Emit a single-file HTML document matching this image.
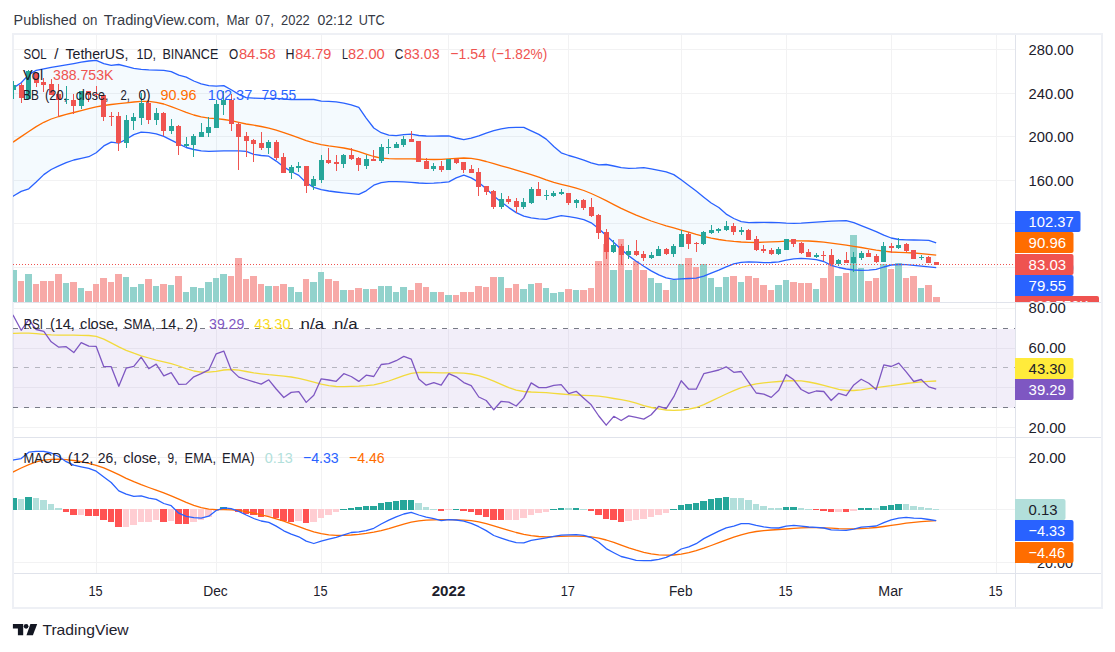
<!DOCTYPE html><html><head><meta charset="utf-8"><title>SOL chart</title><style>html,body{margin:0;padding:0;background:#fff}body{width:1115px;height:652px;position:relative;overflow:hidden;font-family:"Liberation Sans",sans-serif}</style></head><body><svg width="1115" height="652" viewBox="0 0 1115 652" style="position:absolute;left:0;top:0">
<defs>
<clipPath id="cm"><rect x="13" y="35" width="1002" height="267"/></clipPath>
<clipPath id="cr"><rect x="13" y="303" width="1002" height="134"/></clipPath>
<clipPath id="cd"><rect x="13" y="438" width="1002" height="135"/></clipPath>
<clipPath id="ca"><rect x="1015" y="35" width="86" height="267"/></clipPath>
<clipPath id="ca2"><rect x="1015" y="303" width="86" height="134"/></clipPath>
<clipPath id="ca3"><rect x="1015" y="438" width="86" height="135"/></clipPath>
</defs>
<rect x="0" y="0" width="1115" height="652" fill="#fff"/>
<g shape-rendering="crispEdges"><rect x="12" y="33" width="1091" height="2" fill="#eef0f5"/><rect x="12" y="607" width="1091" height="2" fill="#eef0f5"/><rect x="12" y="33" width="2" height="576" fill="#eef0f5"/><rect x="1101" y="33" width="2" height="576" fill="#eef0f5"/></g>
<g shape-rendering="crispEdges"><rect x="96" y="35" width="1" height="538" fill="#f2f2f3"/><rect x="216" y="35" width="1" height="538" fill="#f2f2f3"/><rect x="321" y="35" width="1" height="538" fill="#f2f2f3"/><rect x="448" y="35" width="1" height="538" fill="#f2f2f3"/><rect x="568" y="35" width="1" height="538" fill="#f2f2f3"/><rect x="681" y="35" width="1" height="538" fill="#f2f2f3"/><rect x="786" y="35" width="1" height="538" fill="#f2f2f3"/><rect x="891" y="35" width="1" height="538" fill="#f2f2f3"/><rect x="996" y="35" width="1" height="538" fill="#f2f2f3"/><rect x="14" y="49" width="1001" height="1" fill="#f2f2f3"/><rect x="14" y="93" width="1001" height="1" fill="#f2f2f3"/><rect x="14" y="136" width="1001" height="1" fill="#f2f2f3"/><rect x="14" y="180" width="1001" height="1" fill="#f2f2f3"/><rect x="14" y="223" width="1001" height="1" fill="#f2f2f3"/><rect x="14" y="267" width="1001" height="1" fill="#f2f2f3"/><rect x="14" y="308" width="1001" height="1" fill="#f2f2f3"/><rect x="14" y="348" width="1001" height="1" fill="#f2f2f3"/><rect x="14" y="387" width="1001" height="1" fill="#f2f2f3"/><rect x="14" y="427" width="1001" height="1" fill="#f2f2f3"/><rect x="14" y="457" width="1001" height="1" fill="#f2f2f3"/><rect x="14" y="509" width="1001" height="1" fill="#f2f2f3"/><rect x="14" y="562" width="1001" height="1" fill="#f2f2f3"/></g>
<g clip-path="url(#cm)">
<polygon points="6.2,93.1 13.8,87.6 21.2,82.7 28.8,74.6 36.2,70.4 43.8,68.8 51.2,67.4 58.8,66.1 66.2,64.9 73.8,63.6 81.2,62.2 88.8,61.0 96.2,60.4 103.8,63.7 111.2,65.3 118.8,64.5 126.2,66.4 133.8,68.3 141.2,69.4 148.8,69.9 156.2,70.1 163.8,70.3 171.2,71.7 178.8,75.1 186.2,77.2 193.8,81.0 201.2,83.9 208.8,85.7 216.2,86.2 223.8,85.6 231.2,89.8 238.8,94.4 246.2,97.6 253.8,98.2 261.2,98.3 268.8,98.3 276.2,98.4 283.8,99.0 291.2,99.6 298.8,99.5 306.2,99.4 313.8,99.5 321.2,101.2 328.8,101.4 336.2,101.9 343.8,103.2 351.2,104.8 358.8,107.4 366.2,118.1 373.8,128.0 381.2,132.7 388.8,135.1 396.2,135.7 403.8,134.6 411.2,134.1 418.8,135.5 426.2,136.0 433.8,136.2 441.2,136.0 448.8,135.9 456.2,138.0 463.8,139.6 471.2,138.2 478.8,135.9 486.2,133.1 493.8,130.7 501.2,128.9 508.8,127.7 516.2,127.3 523.8,127.4 531.2,130.9 538.8,134.4 546.2,139.1 553.8,146.5 561.2,152.8 568.8,155.5 576.2,157.6 583.8,160.1 591.2,162.8 598.8,164.9 606.2,164.5 613.8,166.0 621.2,167.6 628.8,168.3 636.2,168.2 643.8,167.7 651.2,168.9 658.8,170.4 666.2,171.9 673.8,174.6 681.2,179.8 688.8,185.4 696.2,191.1 703.8,197.2 711.2,203.0 718.8,207.5 726.2,214.1 733.8,218.5 741.2,221.6 748.8,222.6 756.2,222.5 763.8,222.4 771.2,222.5 778.8,222.7 786.2,223.1 793.8,223.3 801.2,223.1 808.8,222.6 816.2,222.1 823.8,221.6 831.2,221.1 838.8,220.8 846.2,220.6 853.8,222.7 861.2,225.7 868.8,228.7 876.2,231.7 883.8,235.2 891.2,238.0 898.8,239.5 906.2,239.8 913.8,240.0 921.2,240.1 928.8,240.4 936.2,242.9 936.2,267.6 928.8,266.8 921.2,266.1 913.8,265.4 906.2,264.7 898.8,264.5 891.2,265.0 883.8,267.0 876.2,269.4 868.8,270.1 861.2,270.4 853.8,270.0 846.2,269.0 838.8,267.5 831.2,265.3 823.8,261.5 816.2,259.7 808.8,258.8 801.2,258.3 793.8,258.8 786.2,260.1 778.8,261.9 771.2,262.5 763.8,262.7 756.2,262.1 748.8,261.8 741.2,262.3 733.8,263.8 726.2,266.8 718.8,270.1 711.2,273.1 703.8,276.1 696.2,278.2 688.8,278.5 681.2,278.9 673.8,279.4 666.2,277.9 658.8,274.9 651.2,270.9 643.8,266.3 636.2,261.3 628.8,255.9 621.2,249.2 613.8,242.4 606.2,235.6 598.8,228.8 591.2,222.8 583.8,219.6 576.2,217.9 568.8,216.7 561.2,215.7 553.8,217.3 546.2,219.3 538.8,218.8 531.2,217.8 523.8,216.1 516.2,212.6 508.8,207.6 501.2,201.9 493.8,195.9 486.2,188.8 478.8,182.4 471.2,177.9 463.8,175.2 456.2,177.9 448.8,181.8 441.2,182.6 433.8,183.1 426.2,183.3 418.8,183.0 411.2,182.3 403.8,181.9 396.2,181.7 388.8,181.6 381.2,182.7 373.8,185.2 366.2,190.8 358.8,194.4 351.2,193.7 343.8,192.9 336.2,192.0 328.8,191.0 321.2,189.7 313.8,187.4 306.2,182.7 298.8,175.4 291.2,171.5 283.8,166.9 276.2,161.1 268.8,156.2 261.2,155.5 253.8,154.3 246.2,151.4 238.8,150.8 231.2,150.8 223.8,150.8 216.2,151.1 208.8,151.3 201.2,150.9 193.8,149.5 186.2,147.5 178.8,143.8 171.2,140.1 163.8,136.4 156.2,133.9 148.8,132.7 141.2,132.1 133.8,134.6 126.2,139.2 118.8,143.2 111.2,142.2 103.8,145.9 96.2,152.7 88.8,156.7 81.2,158.3 73.8,160.0 66.2,162.7 58.8,165.8 51.2,169.5 43.8,174.6 36.2,182.0 28.8,188.8 21.2,191.4 13.8,195.7 6.2,200.4" fill="#2196f3" fill-opacity="0.05"/>
<g shape-rendering="crispEdges"><rect x="10" y="270" width="7" height="32" fill="#92d2cc"/><rect x="18" y="281" width="6" height="21" fill="#f7a9a7"/><rect x="25" y="274" width="7" height="28" fill="#92d2cc"/><rect x="33" y="284" width="6" height="18" fill="#f7a9a7"/><rect x="40" y="281" width="7" height="21" fill="#f7a9a7"/><rect x="48" y="281" width="6" height="21" fill="#f7a9a7"/><rect x="55" y="274" width="7" height="28" fill="#f7a9a7"/><rect x="63" y="283" width="6" height="19" fill="#92d2cc"/><rect x="70" y="282" width="7" height="20" fill="#f7a9a7"/><rect x="78" y="288" width="6" height="14" fill="#92d2cc"/><rect x="85" y="291" width="7" height="11" fill="#f7a9a7"/><rect x="93" y="284" width="6" height="18" fill="#f7a9a7"/><rect x="100" y="278" width="7" height="24" fill="#f7a9a7"/><rect x="108" y="282" width="6" height="20" fill="#f7a9a7"/><rect x="115" y="274" width="7" height="28" fill="#f7a9a7"/><rect x="123" y="277" width="6" height="25" fill="#92d2cc"/><rect x="130" y="287" width="7" height="15" fill="#92d2cc"/><rect x="138" y="284" width="6" height="18" fill="#92d2cc"/><rect x="145" y="279" width="7" height="23" fill="#f7a9a7"/><rect x="153" y="286" width="6" height="16" fill="#92d2cc"/><rect x="160" y="284" width="7" height="18" fill="#f7a9a7"/><rect x="168" y="285" width="6" height="17" fill="#92d2cc"/><rect x="175" y="276" width="7" height="26" fill="#f7a9a7"/><rect x="183" y="292" width="6" height="10" fill="#92d2cc"/><rect x="190" y="287" width="7" height="15" fill="#92d2cc"/><rect x="198" y="288" width="6" height="14" fill="#92d2cc"/><rect x="205" y="282" width="7" height="20" fill="#92d2cc"/><rect x="213" y="278" width="6" height="24" fill="#92d2cc"/><rect x="220" y="274" width="7" height="28" fill="#92d2cc"/><rect x="228" y="276" width="6" height="26" fill="#f7a9a7"/><rect x="235" y="258" width="7" height="44" fill="#f7a9a7"/><rect x="243" y="279" width="6" height="23" fill="#f7a9a7"/><rect x="250" y="276" width="7" height="26" fill="#f7a9a7"/><rect x="258" y="284" width="6" height="18" fill="#f7a9a7"/><rect x="265" y="286" width="7" height="16" fill="#92d2cc"/><rect x="273" y="286" width="6" height="16" fill="#f7a9a7"/><rect x="280" y="284" width="7" height="18" fill="#f7a9a7"/><rect x="288" y="287" width="6" height="15" fill="#92d2cc"/><rect x="295" y="292" width="7" height="10" fill="#92d2cc"/><rect x="303" y="279" width="6" height="23" fill="#f7a9a7"/><rect x="310" y="282" width="7" height="20" fill="#92d2cc"/><rect x="318" y="272" width="6" height="30" fill="#92d2cc"/><rect x="325" y="279" width="7" height="23" fill="#f7a9a7"/><rect x="333" y="281" width="6" height="21" fill="#f7a9a7"/><rect x="340" y="290" width="7" height="12" fill="#92d2cc"/><rect x="348" y="290" width="6" height="12" fill="#f7a9a7"/><rect x="355" y="288" width="7" height="14" fill="#f7a9a7"/><rect x="363" y="289" width="6" height="13" fill="#92d2cc"/><rect x="370" y="289" width="7" height="13" fill="#f7a9a7"/><rect x="378" y="286" width="6" height="16" fill="#92d2cc"/><rect x="385" y="286" width="7" height="16" fill="#92d2cc"/><rect x="393" y="292" width="6" height="10" fill="#92d2cc"/><rect x="400" y="287" width="7" height="15" fill="#92d2cc"/><rect x="408" y="290" width="6" height="12" fill="#f7a9a7"/><rect x="415" y="283" width="7" height="19" fill="#f7a9a7"/><rect x="423" y="287" width="6" height="15" fill="#f7a9a7"/><rect x="430" y="292" width="7" height="10" fill="#92d2cc"/><rect x="438" y="292" width="6" height="10" fill="#f7a9a7"/><rect x="445" y="295" width="7" height="7" fill="#92d2cc"/><rect x="453" y="295" width="6" height="7" fill="#f7a9a7"/><rect x="460" y="292" width="7" height="10" fill="#f7a9a7"/><rect x="468" y="292" width="6" height="10" fill="#f7a9a7"/><rect x="475" y="286" width="7" height="16" fill="#f7a9a7"/><rect x="483" y="287" width="6" height="15" fill="#f7a9a7"/><rect x="490" y="277" width="7" height="25" fill="#f7a9a7"/><rect x="498" y="277" width="6" height="25" fill="#92d2cc"/><rect x="505" y="288" width="7" height="14" fill="#f7a9a7"/><rect x="513" y="284" width="6" height="18" fill="#f7a9a7"/><rect x="520" y="289" width="7" height="13" fill="#92d2cc"/><rect x="528" y="284" width="6" height="18" fill="#92d2cc"/><rect x="535" y="283" width="7" height="19" fill="#f7a9a7"/><rect x="543" y="288" width="6" height="14" fill="#92d2cc"/><rect x="550" y="293" width="7" height="9" fill="#92d2cc"/><rect x="558" y="292" width="6" height="10" fill="#92d2cc"/><rect x="565" y="289" width="7" height="13" fill="#f7a9a7"/><rect x="573" y="290" width="6" height="12" fill="#92d2cc"/><rect x="580" y="290" width="7" height="12" fill="#f7a9a7"/><rect x="588" y="288" width="6" height="14" fill="#f7a9a7"/><rect x="595" y="261" width="7" height="41" fill="#f7a9a7"/><rect x="603" y="244" width="6" height="58" fill="#f7a9a7"/><rect x="610" y="270" width="7" height="32" fill="#92d2cc"/><rect x="618" y="239" width="6" height="63" fill="#f7a9a7"/><rect x="625" y="270" width="7" height="32" fill="#92d2cc"/><rect x="633" y="261" width="6" height="41" fill="#f7a9a7"/><rect x="640" y="270" width="7" height="32" fill="#f7a9a7"/><rect x="648" y="278" width="6" height="24" fill="#92d2cc"/><rect x="655" y="283" width="7" height="19" fill="#92d2cc"/><rect x="663" y="290" width="6" height="12" fill="#f7a9a7"/><rect x="670" y="280" width="7" height="22" fill="#92d2cc"/><rect x="678" y="264" width="6" height="38" fill="#92d2cc"/><rect x="685" y="258" width="7" height="44" fill="#f7a9a7"/><rect x="693" y="267" width="6" height="35" fill="#f7a9a7"/><rect x="700" y="264" width="7" height="38" fill="#92d2cc"/><rect x="708" y="278" width="6" height="24" fill="#92d2cc"/><rect x="715" y="287" width="7" height="15" fill="#92d2cc"/><rect x="723" y="277" width="6" height="25" fill="#92d2cc"/><rect x="730" y="276" width="7" height="26" fill="#f7a9a7"/><rect x="738" y="282" width="6" height="20" fill="#92d2cc"/><rect x="745" y="276" width="7" height="26" fill="#f7a9a7"/><rect x="753" y="278" width="6" height="24" fill="#f7a9a7"/><rect x="760" y="285" width="7" height="17" fill="#f7a9a7"/><rect x="768" y="290" width="6" height="12" fill="#f7a9a7"/><rect x="775" y="285" width="7" height="17" fill="#92d2cc"/><rect x="783" y="280" width="6" height="22" fill="#92d2cc"/><rect x="790" y="282" width="7" height="20" fill="#f7a9a7"/><rect x="798" y="283" width="6" height="19" fill="#f7a9a7"/><rect x="805" y="283" width="7" height="19" fill="#f7a9a7"/><rect x="813" y="289" width="6" height="13" fill="#92d2cc"/><rect x="820" y="278" width="7" height="24" fill="#f7a9a7"/><rect x="828" y="264" width="6" height="38" fill="#f7a9a7"/><rect x="835" y="276" width="7" height="26" fill="#92d2cc"/><rect x="843" y="273" width="6" height="29" fill="#f7a9a7"/><rect x="850" y="235" width="7" height="67" fill="#92d2cc"/><rect x="858" y="268" width="6" height="34" fill="#92d2cc"/><rect x="865" y="281" width="7" height="21" fill="#f7a9a7"/><rect x="873" y="278" width="6" height="24" fill="#f7a9a7"/><rect x="880" y="264" width="7" height="38" fill="#92d2cc"/><rect x="888" y="269" width="6" height="33" fill="#f7a9a7"/><rect x="895" y="263" width="7" height="39" fill="#92d2cc"/><rect x="903" y="278" width="6" height="24" fill="#f7a9a7"/><rect x="910" y="276" width="7" height="26" fill="#f7a9a7"/><rect x="918" y="288" width="6" height="14" fill="#92d2cc"/><rect x="925" y="285" width="7" height="17" fill="#f7a9a7"/><rect x="933" y="297" width="7" height="5" fill="#f7a9a7"/></g>
<polyline points="6.2,146.4 13.8,141.6 21.2,136.6 28.8,131.5 36.2,126.6 43.8,122.3 51.2,119.0 58.8,116.5 66.2,114.4 73.8,112.5 81.2,110.6 88.8,108.7 96.2,106.9 103.8,105.5 111.2,104.5 118.8,103.7 126.2,102.9 133.8,102.0 141.2,101.3 148.8,101.3 156.2,102.3 163.8,104.0 171.2,106.6 178.8,109.5 186.2,112.4 193.8,115.0 201.2,116.9 208.8,118.1 216.2,118.7 223.8,119.5 231.2,120.7 238.8,122.4 246.2,124.0 253.8,125.2 261.2,126.5 268.8,128.1 276.2,130.2 283.8,132.6 291.2,135.2 298.8,137.9 306.2,140.6 313.8,142.9 321.2,144.7 328.8,145.9 336.2,146.9 343.8,148.0 351.2,149.5 358.8,151.6 366.2,154.1 373.8,156.5 381.2,158.1 388.8,158.7 396.2,158.8 403.8,158.8 411.2,158.8 418.8,159.0 426.2,159.4 433.8,159.5 441.2,159.4 448.8,158.9 456.2,158.3 463.8,158.0 471.2,158.4 478.8,159.6 486.2,161.5 493.8,163.7 501.2,165.8 508.8,167.9 516.2,170.1 523.8,172.4 531.2,174.7 538.8,177.2 546.2,179.9 553.8,182.4 561.2,184.3 568.8,186.1 576.2,188.2 583.8,190.5 591.2,193.5 598.8,197.0 606.2,200.7 613.8,204.6 621.2,208.4 628.8,211.9 636.2,215.2 643.8,218.2 651.2,221.0 658.8,223.5 666.2,225.8 673.8,227.9 681.2,230.1 688.8,232.2 696.2,234.4 703.8,236.4 711.2,238.1 718.8,239.5 726.2,240.6 733.8,241.4 741.2,242.0 748.8,242.4 756.2,242.5 763.8,242.2 771.2,241.9 778.8,241.6 786.2,241.2 793.8,240.8 801.2,240.8 808.8,241.0 816.2,241.5 823.8,242.2 831.2,243.2 838.8,244.2 846.2,245.2 853.8,246.3 861.2,247.5 868.8,248.8 876.2,250.1 883.8,251.2 891.2,252.0 898.8,252.3 906.2,252.6 913.8,253.0 921.2,253.6 928.8,254.3 936.2,255.1" fill="none" stroke="#ff6d00" stroke-width="1.3" stroke-linejoin="round"/>
<polyline points="6.2,93.1 13.8,87.6 21.2,82.7 28.8,74.6 36.2,70.4 43.8,68.8 51.2,67.4 58.8,66.1 66.2,64.9 73.8,63.6 81.2,62.2 88.8,61.0 96.2,60.4 103.8,63.7 111.2,65.3 118.8,64.5 126.2,66.4 133.8,68.3 141.2,69.4 148.8,69.9 156.2,70.1 163.8,70.3 171.2,71.7 178.8,75.1 186.2,77.2 193.8,81.0 201.2,83.9 208.8,85.7 216.2,86.2 223.8,85.6 231.2,89.8 238.8,94.4 246.2,97.6 253.8,98.2 261.2,98.3 268.8,98.3 276.2,98.4 283.8,99.0 291.2,99.6 298.8,99.5 306.2,99.4 313.8,99.5 321.2,101.2 328.8,101.4 336.2,101.9 343.8,103.2 351.2,104.8 358.8,107.4 366.2,118.1 373.8,128.0 381.2,132.7 388.8,135.1 396.2,135.7 403.8,134.6 411.2,134.1 418.8,135.5 426.2,136.0 433.8,136.2 441.2,136.0 448.8,135.9 456.2,138.0 463.8,139.6 471.2,138.2 478.8,135.9 486.2,133.1 493.8,130.7 501.2,128.9 508.8,127.7 516.2,127.3 523.8,127.4 531.2,130.9 538.8,134.4 546.2,139.1 553.8,146.5 561.2,152.8 568.8,155.5 576.2,157.6 583.8,160.1 591.2,162.8 598.8,164.9 606.2,164.5 613.8,166.0 621.2,167.6 628.8,168.3 636.2,168.2 643.8,167.7 651.2,168.9 658.8,170.4 666.2,171.9 673.8,174.6 681.2,179.8 688.8,185.4 696.2,191.1 703.8,197.2 711.2,203.0 718.8,207.5 726.2,214.1 733.8,218.5 741.2,221.6 748.8,222.6 756.2,222.5 763.8,222.4 771.2,222.5 778.8,222.7 786.2,223.1 793.8,223.3 801.2,223.1 808.8,222.6 816.2,222.1 823.8,221.6 831.2,221.1 838.8,220.8 846.2,220.6 853.8,222.7 861.2,225.7 868.8,228.7 876.2,231.7 883.8,235.2 891.2,238.0 898.8,239.5 906.2,239.8 913.8,240.0 921.2,240.1 928.8,240.4 936.2,242.9" fill="none" stroke="#2962ff" stroke-width="1.3" stroke-linejoin="round"/>
<polyline points="6.2,200.4 13.8,195.7 21.2,191.4 28.8,188.8 36.2,182.0 43.8,174.6 51.2,169.5 58.8,165.8 66.2,162.7 73.8,160.0 81.2,158.3 88.8,156.7 96.2,152.7 103.8,145.9 111.2,142.2 118.8,143.2 126.2,139.2 133.8,134.6 141.2,132.1 148.8,132.7 156.2,133.9 163.8,136.4 171.2,140.1 178.8,143.8 186.2,147.5 193.8,149.5 201.2,150.9 208.8,151.3 216.2,151.1 223.8,150.8 231.2,150.8 238.8,150.8 246.2,151.4 253.8,154.3 261.2,155.5 268.8,156.2 276.2,161.1 283.8,166.9 291.2,171.5 298.8,175.4 306.2,182.7 313.8,187.4 321.2,189.7 328.8,191.0 336.2,192.0 343.8,192.9 351.2,193.7 358.8,194.4 366.2,190.8 373.8,185.2 381.2,182.7 388.8,181.6 396.2,181.7 403.8,181.9 411.2,182.3 418.8,183.0 426.2,183.3 433.8,183.1 441.2,182.6 448.8,181.8 456.2,177.9 463.8,175.2 471.2,177.9 478.8,182.4 486.2,188.8 493.8,195.9 501.2,201.9 508.8,207.6 516.2,212.6 523.8,216.1 531.2,217.8 538.8,218.8 546.2,219.3 553.8,217.3 561.2,215.7 568.8,216.7 576.2,217.9 583.8,219.6 591.2,222.8 598.8,228.8 606.2,235.6 613.8,242.4 621.2,249.2 628.8,255.9 636.2,261.3 643.8,266.3 651.2,270.9 658.8,274.9 666.2,277.9 673.8,279.4 681.2,278.9 688.8,278.5 696.2,278.2 703.8,276.1 711.2,273.1 718.8,270.1 726.2,266.8 733.8,263.8 741.2,262.3 748.8,261.8 756.2,262.1 763.8,262.7 771.2,262.5 778.8,261.9 786.2,260.1 793.8,258.8 801.2,258.3 808.8,258.8 816.2,259.7 823.8,261.5 831.2,265.3 838.8,267.5 846.2,269.0 853.8,270.0 861.2,270.4 868.8,270.1 876.2,269.4 883.8,267.0 891.2,265.0 898.8,264.5 906.2,264.7 913.8,265.4 921.2,266.1 928.8,266.8 936.2,267.6" fill="none" stroke="#2962ff" stroke-width="1.3" stroke-linejoin="round"/>
<g shape-rendering="crispEdges"><rect x="13" y="81" width="1" height="18" fill="#26a69a"/><rect x="11" y="85" width="5" height="5" fill="#26a69a"/><rect x="21" y="83" width="1" height="20" fill="#ef5350"/><rect x="19" y="85" width="5" height="13" fill="#ef5350"/><rect x="28" y="70" width="1" height="29" fill="#26a69a"/><rect x="26" y="71" width="5" height="28" fill="#26a69a"/><rect x="36" y="72" width="1" height="15" fill="#ef5350"/><rect x="34" y="73" width="5" height="10" fill="#ef5350"/><rect x="43" y="78" width="1" height="14" fill="#ef5350"/><rect x="41" y="82" width="5" height="3" fill="#ef5350"/><rect x="51" y="79" width="1" height="16" fill="#ef5350"/><rect x="49" y="84" width="5" height="11" fill="#ef5350"/><rect x="58" y="84" width="1" height="33" fill="#ef5350"/><rect x="56" y="94" width="5" height="6" fill="#ef5350"/><rect x="66" y="86" width="1" height="18" fill="#26a69a"/><rect x="64" y="99" width="5" height="1" fill="#26a69a"/><rect x="73" y="94" width="1" height="20" fill="#ef5350"/><rect x="71" y="100" width="5" height="6" fill="#ef5350"/><rect x="81" y="91" width="1" height="18" fill="#26a69a"/><rect x="79" y="91" width="5" height="15" fill="#26a69a"/><rect x="88" y="91" width="1" height="11" fill="#ef5350"/><rect x="86" y="91" width="5" height="4" fill="#ef5350"/><rect x="96" y="86" width="1" height="13" fill="#ef5350"/><rect x="94" y="94" width="5" height="1" fill="#ef5350"/><rect x="103" y="95" width="1" height="26" fill="#ef5350"/><rect x="101" y="95" width="5" height="22" fill="#ef5350"/><rect x="111" y="112" width="1" height="14" fill="#ef5350"/><rect x="109" y="116" width="5" height="1" fill="#ef5350"/><rect x="118" y="112" width="1" height="39" fill="#ef5350"/><rect x="116" y="116" width="5" height="27" fill="#ef5350"/><rect x="126" y="115" width="1" height="33" fill="#26a69a"/><rect x="124" y="120" width="5" height="23" fill="#26a69a"/><rect x="133" y="113" width="1" height="17" fill="#26a69a"/><rect x="131" y="117" width="5" height="4" fill="#26a69a"/><rect x="141" y="93" width="1" height="32" fill="#26a69a"/><rect x="139" y="103" width="5" height="15" fill="#26a69a"/><rect x="148" y="100" width="1" height="24" fill="#ef5350"/><rect x="146" y="103" width="5" height="17" fill="#ef5350"/><rect x="156" y="108" width="1" height="17" fill="#26a69a"/><rect x="154" y="113" width="5" height="7" fill="#26a69a"/><rect x="163" y="112" width="1" height="24" fill="#ef5350"/><rect x="161" y="113" width="5" height="18" fill="#ef5350"/><rect x="171" y="119" width="1" height="15" fill="#26a69a"/><rect x="169" y="126" width="5" height="5" fill="#26a69a"/><rect x="178" y="125" width="1" height="30" fill="#ef5350"/><rect x="176" y="126" width="5" height="20" fill="#ef5350"/><rect x="186" y="137" width="1" height="10" fill="#26a69a"/><rect x="184" y="144" width="5" height="2" fill="#26a69a"/><rect x="193" y="134" width="1" height="23" fill="#26a69a"/><rect x="191" y="136" width="5" height="9" fill="#26a69a"/><rect x="201" y="123" width="1" height="14" fill="#26a69a"/><rect x="199" y="132" width="5" height="5" fill="#26a69a"/><rect x="208" y="117" width="1" height="20" fill="#26a69a"/><rect x="206" y="127" width="5" height="6" fill="#26a69a"/><rect x="216" y="100" width="1" height="28" fill="#26a69a"/><rect x="214" y="104" width="5" height="24" fill="#26a69a"/><rect x="223" y="91" width="1" height="24" fill="#26a69a"/><rect x="221" y="100" width="5" height="5" fill="#26a69a"/><rect x="231" y="94" width="1" height="37" fill="#ef5350"/><rect x="229" y="100" width="5" height="24" fill="#ef5350"/><rect x="238" y="122" width="1" height="48" fill="#ef5350"/><rect x="236" y="124" width="5" height="13" fill="#ef5350"/><rect x="246" y="132" width="1" height="25" fill="#ef5350"/><rect x="244" y="136" width="5" height="5" fill="#ef5350"/><rect x="253" y="139" width="1" height="23" fill="#ef5350"/><rect x="251" y="140" width="5" height="4" fill="#ef5350"/><rect x="261" y="132" width="1" height="18" fill="#ef5350"/><rect x="259" y="143" width="5" height="5" fill="#ef5350"/><rect x="268" y="140" width="1" height="14" fill="#26a69a"/><rect x="266" y="142" width="5" height="6" fill="#26a69a"/><rect x="276" y="140" width="1" height="20" fill="#ef5350"/><rect x="274" y="142" width="5" height="16" fill="#ef5350"/><rect x="283" y="153" width="1" height="20" fill="#ef5350"/><rect x="281" y="157" width="5" height="16" fill="#ef5350"/><rect x="291" y="165" width="1" height="14" fill="#26a69a"/><rect x="289" y="167" width="5" height="6" fill="#26a69a"/><rect x="298" y="162" width="1" height="10" fill="#26a69a"/><rect x="296" y="166" width="5" height="2" fill="#26a69a"/><rect x="306" y="166" width="1" height="27" fill="#ef5350"/><rect x="304" y="166" width="5" height="20" fill="#ef5350"/><rect x="313" y="176" width="1" height="14" fill="#26a69a"/><rect x="311" y="179" width="5" height="7" fill="#26a69a"/><rect x="321" y="155" width="1" height="28" fill="#26a69a"/><rect x="319" y="160" width="5" height="20" fill="#26a69a"/><rect x="328" y="148" width="1" height="16" fill="#ef5350"/><rect x="326" y="160" width="5" height="3" fill="#ef5350"/><rect x="336" y="155" width="1" height="16" fill="#ef5350"/><rect x="334" y="162" width="5" height="2" fill="#ef5350"/><rect x="343" y="154" width="1" height="14" fill="#26a69a"/><rect x="341" y="155" width="5" height="9" fill="#26a69a"/><rect x="351" y="148" width="1" height="12" fill="#ef5350"/><rect x="349" y="155" width="5" height="4" fill="#ef5350"/><rect x="358" y="157" width="1" height="14" fill="#ef5350"/><rect x="356" y="158" width="5" height="7" fill="#ef5350"/><rect x="366" y="155" width="1" height="14" fill="#26a69a"/><rect x="364" y="159" width="5" height="7" fill="#26a69a"/><rect x="373" y="150" width="1" height="11" fill="#ef5350"/><rect x="371" y="159" width="5" height="2" fill="#ef5350"/><rect x="381" y="144" width="1" height="19" fill="#26a69a"/><rect x="379" y="147" width="5" height="14" fill="#26a69a"/><rect x="388" y="139" width="1" height="15" fill="#26a69a"/><rect x="386" y="147" width="5" height="1" fill="#26a69a"/><rect x="396" y="142" width="1" height="6" fill="#26a69a"/><rect x="394" y="144" width="5" height="4" fill="#26a69a"/><rect x="403" y="136" width="1" height="11" fill="#26a69a"/><rect x="401" y="139" width="5" height="6" fill="#26a69a"/><rect x="411" y="131" width="1" height="11" fill="#ef5350"/><rect x="409" y="139" width="5" height="3" fill="#ef5350"/><rect x="418" y="141" width="1" height="21" fill="#ef5350"/><rect x="416" y="141" width="5" height="21" fill="#ef5350"/><rect x="426" y="158" width="1" height="11" fill="#ef5350"/><rect x="424" y="161" width="5" height="8" fill="#ef5350"/><rect x="433" y="163" width="1" height="8" fill="#26a69a"/><rect x="431" y="166" width="5" height="3" fill="#26a69a"/><rect x="441" y="161" width="1" height="11" fill="#ef5350"/><rect x="439" y="166" width="5" height="4" fill="#ef5350"/><rect x="448" y="159" width="1" height="11" fill="#26a69a"/><rect x="446" y="159" width="5" height="11" fill="#26a69a"/><rect x="456" y="159" width="1" height="5" fill="#ef5350"/><rect x="454" y="159" width="5" height="4" fill="#ef5350"/><rect x="463" y="162" width="1" height="11" fill="#ef5350"/><rect x="461" y="162" width="5" height="8" fill="#ef5350"/><rect x="471" y="165" width="1" height="8" fill="#ef5350"/><rect x="469" y="169" width="5" height="4" fill="#ef5350"/><rect x="478" y="168" width="1" height="28" fill="#ef5350"/><rect x="476" y="172" width="5" height="15" fill="#ef5350"/><rect x="486" y="186" width="1" height="9" fill="#ef5350"/><rect x="484" y="186" width="5" height="6" fill="#ef5350"/><rect x="493" y="190" width="1" height="19" fill="#ef5350"/><rect x="491" y="191" width="5" height="16" fill="#ef5350"/><rect x="501" y="193" width="1" height="16" fill="#26a69a"/><rect x="499" y="199" width="5" height="8" fill="#26a69a"/><rect x="508" y="196" width="1" height="8" fill="#ef5350"/><rect x="506" y="199" width="5" height="3" fill="#ef5350"/><rect x="516" y="198" width="1" height="15" fill="#ef5350"/><rect x="514" y="201" width="5" height="6" fill="#ef5350"/><rect x="523" y="198" width="1" height="11" fill="#26a69a"/><rect x="521" y="202" width="5" height="5" fill="#26a69a"/><rect x="531" y="187" width="1" height="17" fill="#26a69a"/><rect x="529" y="189" width="5" height="14" fill="#26a69a"/><rect x="538" y="182" width="1" height="14" fill="#ef5350"/><rect x="536" y="189" width="5" height="7" fill="#ef5350"/><rect x="546" y="190" width="1" height="10" fill="#26a69a"/><rect x="544" y="195" width="5" height="1" fill="#26a69a"/><rect x="553" y="191" width="1" height="6" fill="#26a69a"/><rect x="551" y="193" width="5" height="3" fill="#26a69a"/><rect x="561" y="189" width="1" height="6" fill="#26a69a"/><rect x="559" y="192" width="5" height="2" fill="#26a69a"/><rect x="568" y="193" width="1" height="12" fill="#ef5350"/><rect x="566" y="193" width="5" height="10" fill="#ef5350"/><rect x="576" y="199" width="1" height="9" fill="#26a69a"/><rect x="574" y="200" width="5" height="3" fill="#26a69a"/><rect x="583" y="199" width="1" height="11" fill="#ef5350"/><rect x="581" y="200" width="5" height="8" fill="#ef5350"/><rect x="591" y="198" width="1" height="19" fill="#ef5350"/><rect x="589" y="207" width="5" height="9" fill="#ef5350"/><rect x="598" y="214" width="1" height="25" fill="#ef5350"/><rect x="596" y="215" width="5" height="18" fill="#ef5350"/><rect x="606" y="229" width="1" height="30" fill="#ef5350"/><rect x="604" y="232" width="5" height="20" fill="#ef5350"/><rect x="613" y="240" width="1" height="13" fill="#26a69a"/><rect x="611" y="245" width="5" height="7" fill="#26a69a"/><rect x="621" y="244" width="1" height="21" fill="#ef5350"/><rect x="619" y="246" width="5" height="9" fill="#ef5350"/><rect x="628" y="245" width="1" height="14" fill="#26a69a"/><rect x="626" y="251" width="5" height="4" fill="#26a69a"/><rect x="636" y="240" width="1" height="16" fill="#ef5350"/><rect x="634" y="251" width="5" height="4" fill="#ef5350"/><rect x="643" y="251" width="1" height="10" fill="#ef5350"/><rect x="641" y="254" width="5" height="4" fill="#ef5350"/><rect x="651" y="252" width="1" height="7" fill="#26a69a"/><rect x="649" y="255" width="5" height="3" fill="#26a69a"/><rect x="658" y="246" width="1" height="10" fill="#26a69a"/><rect x="656" y="249" width="5" height="7" fill="#26a69a"/><rect x="666" y="248" width="1" height="7" fill="#ef5350"/><rect x="664" y="249" width="5" height="5" fill="#ef5350"/><rect x="673" y="244" width="1" height="13" fill="#26a69a"/><rect x="671" y="246" width="5" height="8" fill="#26a69a"/><rect x="681" y="230" width="1" height="17" fill="#26a69a"/><rect x="679" y="234" width="5" height="13" fill="#26a69a"/><rect x="688" y="232" width="1" height="17" fill="#ef5350"/><rect x="686" y="234" width="5" height="10" fill="#ef5350"/><rect x="696" y="242" width="1" height="10" fill="#ef5350"/><rect x="694" y="243" width="5" height="1" fill="#ef5350"/><rect x="703" y="231" width="1" height="14" fill="#26a69a"/><rect x="701" y="232" width="5" height="12" fill="#26a69a"/><rect x="711" y="225" width="1" height="9" fill="#26a69a"/><rect x="709" y="230" width="5" height="3" fill="#26a69a"/><rect x="718" y="228" width="1" height="5" fill="#26a69a"/><rect x="716" y="229" width="5" height="2" fill="#26a69a"/><rect x="726" y="221" width="1" height="10" fill="#26a69a"/><rect x="724" y="226" width="5" height="4" fill="#26a69a"/><rect x="733" y="223" width="1" height="12" fill="#ef5350"/><rect x="731" y="226" width="5" height="6" fill="#ef5350"/><rect x="741" y="227" width="1" height="8" fill="#26a69a"/><rect x="739" y="230" width="5" height="2" fill="#26a69a"/><rect x="748" y="229" width="1" height="11" fill="#ef5350"/><rect x="746" y="230" width="5" height="10" fill="#ef5350"/><rect x="756" y="236" width="1" height="15" fill="#ef5350"/><rect x="754" y="239" width="5" height="11" fill="#ef5350"/><rect x="763" y="245" width="1" height="8" fill="#ef5350"/><rect x="761" y="249" width="5" height="2" fill="#ef5350"/><rect x="771" y="248" width="1" height="7" fill="#ef5350"/><rect x="769" y="250" width="5" height="4" fill="#ef5350"/><rect x="778" y="247" width="1" height="8" fill="#26a69a"/><rect x="776" y="249" width="5" height="5" fill="#26a69a"/><rect x="786" y="239" width="1" height="11" fill="#26a69a"/><rect x="784" y="239" width="5" height="11" fill="#26a69a"/><rect x="793" y="239" width="1" height="8" fill="#ef5350"/><rect x="791" y="239" width="5" height="5" fill="#ef5350"/><rect x="801" y="242" width="1" height="12" fill="#ef5350"/><rect x="799" y="243" width="5" height="10" fill="#ef5350"/><rect x="808" y="249" width="1" height="8" fill="#ef5350"/><rect x="806" y="252" width="5" height="5" fill="#ef5350"/><rect x="816" y="253" width="1" height="5" fill="#26a69a"/><rect x="814" y="255" width="5" height="2" fill="#26a69a"/><rect x="823" y="251" width="1" height="10" fill="#ef5350"/><rect x="821" y="255" width="5" height="1" fill="#ef5350"/><rect x="831" y="249" width="1" height="17" fill="#ef5350"/><rect x="829" y="255" width="5" height="9" fill="#ef5350"/><rect x="838" y="259" width="1" height="7" fill="#26a69a"/><rect x="836" y="260" width="5" height="4" fill="#26a69a"/><rect x="846" y="252" width="1" height="11" fill="#ef5350"/><rect x="844" y="260" width="5" height="3" fill="#ef5350"/><rect x="853" y="252" width="1" height="20" fill="#26a69a"/><rect x="851" y="257" width="5" height="6" fill="#26a69a"/><rect x="861" y="251" width="1" height="9" fill="#26a69a"/><rect x="859" y="253" width="5" height="5" fill="#26a69a"/><rect x="868" y="250" width="1" height="7" fill="#ef5350"/><rect x="866" y="253" width="5" height="4" fill="#ef5350"/><rect x="876" y="254" width="1" height="9" fill="#ef5350"/><rect x="874" y="256" width="5" height="6" fill="#ef5350"/><rect x="883" y="242" width="1" height="20" fill="#26a69a"/><rect x="881" y="246" width="5" height="16" fill="#26a69a"/><rect x="891" y="243" width="1" height="10" fill="#ef5350"/><rect x="889" y="246" width="5" height="2" fill="#ef5350"/><rect x="898" y="238" width="1" height="11" fill="#26a69a"/><rect x="896" y="245" width="5" height="3" fill="#26a69a"/><rect x="906" y="243" width="1" height="9" fill="#ef5350"/><rect x="904" y="244" width="5" height="7" fill="#ef5350"/><rect x="913" y="250" width="1" height="9" fill="#ef5350"/><rect x="911" y="250" width="5" height="9" fill="#ef5350"/><rect x="921" y="255" width="1" height="5" fill="#26a69a"/><rect x="919" y="257" width="5" height="1" fill="#26a69a"/><rect x="928" y="256" width="1" height="7" fill="#ef5350"/><rect x="926" y="257" width="5" height="6" fill="#ef5350"/><rect x="936" y="262" width="1" height="3" fill="#ef5350"/><rect x="934" y="262" width="5" height="3" fill="#ef5350"/></g>
<line x1="13" y1="264.5" x2="1015" y2="264.5" stroke="#ef5350" stroke-width="1" stroke-dasharray="1 2" shape-rendering="crispEdges"/>
</g>
<g clip-path="url(#cr)">
<rect x="13" y="329" width="1002" height="79" fill="#7e57c2" fill-opacity="0.1"/>
<line x1="13" y1="328.5" x2="1015" y2="328.5" stroke="#787b86" stroke-width="1" stroke-dasharray="5 6" shape-rendering="crispEdges"/>
<line x1="13" y1="367.5" x2="1015" y2="367.5" stroke="#787b86" stroke-opacity="0.5" stroke-width="1" stroke-dasharray="5 6" shape-rendering="crispEdges"/>
<line x1="13" y1="407.5" x2="1015" y2="407.5" stroke="#787b86" stroke-width="1" stroke-dasharray="5 6" shape-rendering="crispEdges"/>
<polyline points="6.2,333.4 13.8,333.3 21.2,333.1 28.8,333.1 36.2,333.6 43.8,334.4 51.2,334.9 58.8,335.1 66.2,335.1 73.8,335.2 81.2,335.3 88.8,335.5 96.2,336.4 103.8,339.1 111.2,342.9 118.8,346.9 126.2,350.3 133.8,353.2 141.2,355.8 148.8,358.0 156.2,360.1 163.8,361.8 171.2,363.6 178.8,366.0 186.2,368.6 193.8,371.0 201.2,372.2 208.8,372.2 216.2,371.3 223.8,370.0 231.2,369.5 238.8,370.2 246.2,371.5 253.8,372.8 261.2,373.8 268.8,374.7 276.2,375.4 283.8,376.1 291.2,377.0 298.8,378.4 306.2,380.2 313.8,382.2 321.2,384.1 328.8,385.7 336.2,386.5 343.8,386.6 351.2,386.3 358.8,386.1 366.2,385.7 373.8,384.8 381.2,383.2 388.8,381.0 396.2,378.4 403.8,375.6 411.2,373.4 418.8,372.4 426.2,372.5 433.8,372.7 441.2,372.9 448.8,372.9 456.2,372.9 463.8,373.2 471.2,374.0 478.8,375.7 486.2,378.2 493.8,381.1 501.2,384.4 508.8,387.7 516.2,390.2 523.8,391.5 531.2,392.0 538.8,392.3 546.2,392.7 553.8,393.3 561.2,394.0 568.8,394.6 576.2,395.0 583.8,395.3 591.2,395.7 598.8,396.2 606.2,397.2 613.8,398.5 621.2,399.6 628.8,401.1 636.2,403.2 643.8,405.6 651.2,407.5 658.8,408.9 666.2,410.0 673.8,410.4 681.2,410.0 688.8,409.2 696.2,407.5 703.8,404.7 711.2,401.1 718.8,397.5 726.2,394.0 733.8,390.6 741.2,387.7 748.8,385.5 756.2,383.9 763.8,382.9 771.2,382.2 778.8,381.5 786.2,380.9 793.8,380.6 801.2,380.9 808.8,382.0 816.2,383.5 823.8,385.4 831.2,387.4 838.8,389.3 846.2,390.5 853.8,390.5 861.2,389.8 868.8,388.7 876.2,387.6 883.8,386.6 891.2,385.7 898.8,384.6 906.2,383.5 913.8,382.6 921.2,381.8 928.8,381.3 936.2,381.0" fill="none" stroke="#f2da3c" stroke-width="1.3" stroke-linejoin="round"/>
<polyline points="6.2,306.0 13.8,316.5 21.2,330.3 28.8,319.6 36.2,329.5 43.8,331.4 51.2,341.8 58.8,347.2 66.2,346.7 73.8,352.6 81.2,342.6 88.8,346.1 96.2,346.4 103.8,366.7 111.2,366.7 118.8,386.3 126.2,368.2 133.8,366.4 141.2,357.2 148.8,368.7 156.2,364.1 163.8,375.9 171.2,372.7 178.8,384.4 186.2,384.1 193.8,376.8 201.2,373.7 208.8,369.9 216.2,353.8 223.8,351.1 231.2,369.9 238.8,377.1 246.2,379.5 253.8,381.8 261.2,384.1 268.8,379.8 276.2,389.0 283.8,397.5 291.2,392.4 298.8,391.6 306.2,402.4 313.8,395.2 321.2,378.8 328.8,380.0 336.2,381.3 343.8,373.7 351.2,376.5 358.8,381.4 366.2,375.2 373.8,376.5 381.2,364.5 388.8,363.7 396.2,360.7 403.8,356.4 411.2,359.1 418.8,379.1 426.2,385.2 433.8,382.6 441.2,385.2 448.8,373.7 456.2,376.8 463.8,382.6 471.2,385.7 478.8,397.0 486.2,400.5 493.8,409.8 501.2,401.3 508.8,402.2 516.2,406.0 523.8,397.9 531.2,382.9 538.8,387.6 546.2,387.6 553.8,385.3 561.2,384.6 568.8,393.6 576.2,391.3 583.8,398.2 591.2,404.8 598.8,416.0 606.2,425.2 613.8,416.3 621.2,420.5 628.8,415.9 636.2,417.4 643.8,419.1 651.2,414.8 658.8,406.3 666.2,408.6 673.8,396.7 681.2,380.7 688.8,389.2 696.2,389.2 703.8,373.7 711.2,371.8 718.8,370.0 726.2,366.8 733.8,372.3 741.2,371.5 748.8,382.3 756.2,393.0 763.8,394.1 771.2,397.4 778.8,390.2 786.2,374.6 793.8,379.8 801.2,389.5 808.8,393.3 816.2,391.0 823.8,391.5 831.2,400.5 838.8,393.3 846.2,395.6 853.8,384.9 861.2,379.2 868.8,383.3 876.2,389.5 883.8,364.9 891.2,366.5 898.8,363.1 906.2,371.8 913.8,381.5 921.2,379.5 928.8,386.9 936.2,389.2" fill="none" stroke="#7e57c2" stroke-width="1.3" stroke-linejoin="round"/>
</g>
<g clip-path="url(#cd)">
<g shape-rendering="crispEdges"><rect x="10" y="498" width="7" height="12" fill="#26a69a"/><rect x="18" y="499" width="6" height="11" fill="#b2dfdb"/><rect x="25" y="497" width="7" height="13" fill="#26a69a"/><rect x="33" y="498" width="6" height="12" fill="#b2dfdb"/><rect x="40" y="500" width="7" height="10" fill="#b2dfdb"/><rect x="48" y="504" width="6" height="6" fill="#b2dfdb"/><rect x="55" y="508" width="7" height="2" fill="#b2dfdb"/><rect x="63" y="509" width="6" height="3" fill="#ff5252"/><rect x="70" y="509" width="7" height="6" fill="#ff5252"/><rect x="78" y="509" width="6" height="6" fill="#ffcdd2"/><rect x="85" y="509" width="7" height="7" fill="#ff5252"/><rect x="93" y="509" width="6" height="7" fill="#ff5252"/><rect x="100" y="509" width="7" height="11" fill="#ff5252"/><rect x="108" y="509" width="6" height="13" fill="#ff5252"/><rect x="115" y="509" width="7" height="18" fill="#ff5252"/><rect x="123" y="509" width="6" height="18" fill="#ffcdd2"/><rect x="130" y="509" width="7" height="16" fill="#ffcdd2"/><rect x="138" y="509" width="6" height="13" fill="#ffcdd2"/><rect x="145" y="509" width="7" height="13" fill="#ffcdd2"/><rect x="153" y="509" width="6" height="11" fill="#ffcdd2"/><rect x="160" y="509" width="7" height="13" fill="#ff5252"/><rect x="168" y="509" width="6" height="12" fill="#ffcdd2"/><rect x="175" y="509" width="7" height="15" fill="#ff5252"/><rect x="183" y="509" width="6" height="15" fill="#ff5252"/><rect x="190" y="509" width="7" height="13" fill="#ffcdd2"/><rect x="198" y="509" width="6" height="11" fill="#ffcdd2"/><rect x="205" y="509" width="7" height="8" fill="#ffcdd2"/><rect x="213" y="509" width="6" height="2" fill="#ffcdd2"/><rect x="220" y="507" width="7" height="3" fill="#26a69a"/><rect x="228" y="509" width="6" height="1" fill="#b2dfdb"/><rect x="235" y="509" width="7" height="3" fill="#ff5252"/><rect x="243" y="509" width="6" height="5" fill="#ff5252"/><rect x="250" y="509" width="7" height="6" fill="#ff5252"/><rect x="258" y="509" width="6" height="8" fill="#ff5252"/><rect x="265" y="509" width="7" height="7" fill="#ffcdd2"/><rect x="273" y="509" width="6" height="9" fill="#ff5252"/><rect x="280" y="509" width="7" height="12" fill="#ff5252"/><rect x="288" y="509" width="6" height="13" fill="#ff5252"/><rect x="295" y="509" width="7" height="12" fill="#ffcdd2"/><rect x="303" y="509" width="6" height="14" fill="#ff5252"/><rect x="310" y="509" width="7" height="13" fill="#ffcdd2"/><rect x="318" y="509" width="6" height="9" fill="#ffcdd2"/><rect x="325" y="509" width="7" height="6" fill="#ffcdd2"/><rect x="333" y="509" width="6" height="3" fill="#ffcdd2"/><rect x="340" y="509" width="7" height="1" fill="#26a69a"/><rect x="348" y="508" width="6" height="2" fill="#26a69a"/><rect x="355" y="507" width="7" height="3" fill="#26a69a"/><rect x="363" y="506" width="6" height="4" fill="#26a69a"/><rect x="370" y="506" width="7" height="4" fill="#26a69a"/><rect x="378" y="503" width="6" height="7" fill="#26a69a"/><rect x="385" y="502" width="7" height="8" fill="#26a69a"/><rect x="393" y="501" width="6" height="9" fill="#26a69a"/><rect x="400" y="500" width="7" height="10" fill="#26a69a"/><rect x="408" y="500" width="6" height="10" fill="#26a69a"/><rect x="415" y="503" width="7" height="7" fill="#b2dfdb"/><rect x="423" y="507" width="6" height="3" fill="#b2dfdb"/><rect x="430" y="509" width="7" height="1" fill="#b2dfdb"/><rect x="438" y="509" width="6" height="2" fill="#ff5252"/><rect x="445" y="509" width="7" height="1" fill="#ffcdd2"/><rect x="453" y="509" width="6" height="1" fill="#26a69a"/><rect x="460" y="509" width="7" height="2" fill="#ff5252"/><rect x="468" y="509" width="6" height="3" fill="#ff5252"/><rect x="475" y="509" width="7" height="6" fill="#ff5252"/><rect x="483" y="509" width="6" height="8" fill="#ff5252"/><rect x="490" y="509" width="7" height="11" fill="#ff5252"/><rect x="498" y="509" width="6" height="11" fill="#ff5252"/><rect x="505" y="509" width="7" height="11" fill="#ffcdd2"/><rect x="513" y="509" width="6" height="11" fill="#ffcdd2"/><rect x="520" y="509" width="7" height="9" fill="#ffcdd2"/><rect x="528" y="509" width="6" height="6" fill="#ffcdd2"/><rect x="535" y="509" width="7" height="4" fill="#ffcdd2"/><rect x="543" y="509" width="6" height="3" fill="#ffcdd2"/><rect x="550" y="509" width="7" height="1" fill="#26a69a"/><rect x="558" y="508" width="6" height="2" fill="#26a69a"/><rect x="565" y="508" width="7" height="2" fill="#b2dfdb"/><rect x="573" y="508" width="6" height="2" fill="#26a69a"/><rect x="580" y="509" width="7" height="1" fill="#b2dfdb"/><rect x="588" y="509" width="6" height="2" fill="#ff5252"/><rect x="595" y="509" width="7" height="6" fill="#ff5252"/><rect x="603" y="509" width="6" height="10" fill="#ff5252"/><rect x="610" y="509" width="7" height="11" fill="#ff5252"/><rect x="618" y="509" width="6" height="13" fill="#ff5252"/><rect x="625" y="509" width="7" height="12" fill="#ffcdd2"/><rect x="633" y="509" width="6" height="11" fill="#ffcdd2"/><rect x="640" y="509" width="7" height="10" fill="#ffcdd2"/><rect x="648" y="509" width="6" height="8" fill="#ffcdd2"/><rect x="655" y="509" width="7" height="6" fill="#ffcdd2"/><rect x="663" y="509" width="6" height="4" fill="#ffcdd2"/><rect x="670" y="509" width="7" height="1" fill="#26a69a"/><rect x="678" y="505" width="6" height="5" fill="#26a69a"/><rect x="685" y="504" width="7" height="6" fill="#26a69a"/><rect x="693" y="503" width="6" height="7" fill="#26a69a"/><rect x="700" y="501" width="7" height="9" fill="#26a69a"/><rect x="708" y="499" width="6" height="11" fill="#26a69a"/><rect x="715" y="498" width="7" height="12" fill="#26a69a"/><rect x="723" y="497" width="6" height="13" fill="#26a69a"/><rect x="730" y="498" width="7" height="12" fill="#b2dfdb"/><rect x="738" y="498" width="6" height="12" fill="#b2dfdb"/><rect x="745" y="500" width="7" height="10" fill="#b2dfdb"/><rect x="753" y="504" width="6" height="6" fill="#b2dfdb"/><rect x="760" y="506" width="7" height="4" fill="#b2dfdb"/><rect x="768" y="508" width="6" height="2" fill="#b2dfdb"/><rect x="775" y="508" width="7" height="2" fill="#b2dfdb"/><rect x="783" y="507" width="6" height="3" fill="#26a69a"/><rect x="790" y="507" width="7" height="3" fill="#26a69a"/><rect x="798" y="508" width="6" height="2" fill="#b2dfdb"/><rect x="805" y="509" width="7" height="1" fill="#b2dfdb"/><rect x="813" y="509" width="6" height="1" fill="#ff5252"/><rect x="820" y="509" width="7" height="2" fill="#ff5252"/><rect x="828" y="509" width="6" height="3" fill="#ff5252"/><rect x="835" y="509" width="7" height="3" fill="#ffcdd2"/><rect x="843" y="509" width="6" height="3" fill="#ff5252"/><rect x="850" y="509" width="7" height="2" fill="#ffcdd2"/><rect x="858" y="508" width="6" height="2" fill="#26a69a"/><rect x="865" y="508" width="7" height="2" fill="#26a69a"/><rect x="873" y="508" width="6" height="2" fill="#b2dfdb"/><rect x="880" y="506" width="7" height="4" fill="#26a69a"/><rect x="888" y="505" width="6" height="5" fill="#26a69a"/><rect x="895" y="504" width="7" height="6" fill="#26a69a"/><rect x="903" y="504" width="6" height="6" fill="#b2dfdb"/><rect x="910" y="506" width="7" height="4" fill="#b2dfdb"/><rect x="918" y="507" width="6" height="3" fill="#b2dfdb"/><rect x="925" y="508" width="7" height="2" fill="#b2dfdb"/><rect x="933" y="509" width="6" height="1" fill="#b2dfdb"/></g>
<polyline points="6.2,475.3 13.8,471.6 21.2,468.0 28.8,464.6 36.2,461.9 43.8,460.1 51.2,459.3 58.8,459.2 66.2,459.7 73.8,460.5 81.2,461.7 88.8,463.3 96.2,465.3 103.8,467.9 111.2,471.1 118.8,474.7 126.2,478.3 133.8,481.7 141.2,484.7 148.8,487.5 156.2,490.2 163.8,492.9 171.2,495.8 178.8,499.1 186.2,502.4 193.8,505.4 201.2,507.7 208.8,509.1 216.2,509.7 223.8,509.7 231.2,509.8 238.8,510.4 246.2,511.6 253.8,513.1 261.2,514.9 268.8,516.7 276.2,518.8 283.8,521.2 291.2,523.8 298.8,526.6 306.2,529.3 313.8,531.8 321.2,533.7 328.8,534.9 336.2,535.4 343.8,535.4 351.2,535.0 358.8,534.4 366.2,533.4 373.8,532.2 381.2,530.6 388.8,528.6 396.2,526.3 403.8,524.1 411.2,522.2 418.8,520.9 426.2,520.1 433.8,519.8 441.2,519.7 448.8,519.7 456.2,519.8 463.8,520.1 471.2,520.7 478.8,521.9 486.2,523.6 493.8,525.8 501.2,528.1 508.8,530.3 516.2,532.5 523.8,534.3 531.2,535.7 538.8,536.5 546.2,536.8 553.8,536.6 561.2,536.4 568.8,536.2 576.2,536.1 583.8,536.3 591.2,536.9 598.8,538.1 606.2,540.0 613.8,542.4 621.2,545.1 628.8,547.8 636.2,550.2 643.8,552.3 651.2,553.8 658.8,554.8 666.2,555.2 673.8,555.0 681.2,554.1 688.8,552.6 696.2,550.6 703.8,548.2 711.2,545.5 718.8,542.7 726.2,539.9 733.8,537.2 741.2,534.8 748.8,532.9 756.2,531.5 763.8,530.6 771.2,530.0 778.8,529.5 786.2,529.0 793.8,528.4 801.2,527.9 808.8,527.6 816.2,527.6 823.8,527.8 831.2,528.2 838.8,528.6 846.2,528.8 853.8,528.8 861.2,528.5 868.8,528.1 876.2,527.5 883.8,526.5 891.2,525.4 898.8,524.3 906.2,523.2 913.8,522.4 921.2,521.7 928.8,521.1 936.2,520.7" fill="none" stroke="#ff6d00" stroke-width="1.3" stroke-linejoin="round"/>
<polyline points="6.2,461.4 13.8,459.9 21.2,458.6 28.8,452.2 36.2,451.4 43.8,451.4 51.2,453.0 58.8,456.5 66.2,461.7 73.8,465.1 81.2,466.8 88.8,468.4 96.2,471.2 103.8,476.9 111.2,482.5 118.8,490.9 126.2,494.1 133.8,496.4 141.2,495.8 148.8,498.2 156.2,499.4 163.8,503.5 171.2,505.7 178.8,513.2 186.2,516.4 193.8,517.7 201.2,518.1 208.8,516.2 216.2,510.5 223.8,507.8 231.2,508.7 238.8,511.3 246.2,515.0 253.8,518.5 261.2,521.0 268.8,522.4 276.2,526.1 283.8,530.8 291.2,534.2 298.8,536.8 306.2,541.1 313.8,543.5 321.2,541.1 328.8,539.2 336.2,537.3 343.8,534.9 351.2,532.5 358.8,531.8 366.2,530.6 373.8,528.3 381.2,524.0 388.8,520.1 396.2,516.8 403.8,514.0 411.2,512.3 418.8,515.0 426.2,517.2 433.8,518.7 441.2,520.7 448.8,519.7 456.2,520.0 463.8,521.1 471.2,523.3 478.8,526.7 486.2,530.6 493.8,535.5 501.2,538.1 508.8,540.6 516.2,542.6 523.8,542.9 531.2,540.3 538.8,539.1 546.2,537.8 553.8,536.3 561.2,535.1 568.8,534.8 576.2,534.7 583.8,535.4 591.2,537.5 598.8,542.3 606.2,548.6 613.8,552.7 621.2,556.5 628.8,558.4 636.2,560.3 643.8,560.6 651.2,560.5 658.8,559.3 666.2,557.4 673.8,553.9 681.2,549.0 688.8,546.8 696.2,543.7 703.8,538.6 711.2,534.9 718.8,531.2 726.2,527.9 733.8,526.1 741.2,523.7 748.8,523.7 756.2,525.4 763.8,526.9 771.2,527.8 778.8,528.0 786.2,526.2 793.8,525.3 801.2,526.1 808.8,527.0 816.2,527.4 823.8,528.0 831.2,529.8 838.8,530.2 846.2,530.3 853.8,529.1 861.2,527.2 868.8,526.6 876.2,526.0 883.8,522.7 891.2,519.8 898.8,518.1 906.2,517.3 913.8,518.1 921.2,518.3 928.8,519.5 936.2,520.7" fill="none" stroke="#2962ff" stroke-width="1.3" stroke-linejoin="round"/>
</g>
<g shape-rendering="crispEdges"><rect x="1015" y="35" width="1" height="572" fill="#e0e3eb"/><rect x="14" y="302" width="1087" height="1" fill="#e0e3eb"/><rect x="14" y="437" width="1087" height="1" fill="#e0e3eb"/><rect x="14" y="573" width="1087" height="1" fill="#e0e3eb"/></g>
<g clip-path="url(#ca)">
<text x="1028.6" y="54.95" font-family="Liberation Sans, sans-serif" font-size="15.5" fill="#1c202b" textLength="45" lengthAdjust="spacingAndGlyphs">280.00</text>
<text x="1028.6" y="98.75" font-family="Liberation Sans, sans-serif" font-size="15.5" fill="#1c202b" textLength="45" lengthAdjust="spacingAndGlyphs">240.00</text>
<text x="1028.6" y="142.25" font-family="Liberation Sans, sans-serif" font-size="15.5" fill="#1c202b" textLength="45" lengthAdjust="spacingAndGlyphs">200.00</text>
<text x="1028.6" y="185.75" font-family="Liberation Sans, sans-serif" font-size="15.5" fill="#1c202b" textLength="45" lengthAdjust="spacingAndGlyphs">160.00</text>
<text x="1028.6" y="229.25" font-family="Liberation Sans, sans-serif" font-size="15.5" fill="#1c202b" textLength="45" lengthAdjust="spacingAndGlyphs">120.00</text>
<text x="1035.9" y="272.75" font-family="Liberation Sans, sans-serif" font-size="15.5" fill="#1c202b" textLength="37.7" lengthAdjust="spacingAndGlyphs">80.00</text>
<path d="M1015,211 h63.5 a2,2 0 0 1 2,2 v17 a2,2 0 0 1 -2,2 h-63.5 z" fill="#2962ff"/><text x="1028.6" y="226.95" font-family="Liberation Sans, sans-serif" font-size="15.5" fill="#fff" textLength="45" lengthAdjust="spacingAndGlyphs">102.37</text>
<path d="M1015,232 h56.5 a2,2 0 0 1 2,2 v17 a2,2 0 0 1 -2,2 h-56.5 z" fill="#ff6d00"/><text x="1028.6" y="247.95" font-family="Liberation Sans, sans-serif" font-size="15.5" fill="#fff" textLength="37.5" lengthAdjust="spacingAndGlyphs">90.96</text>
<path d="M1015,254 h56.5 a2,2 0 0 1 2,2 v17 a2,2 0 0 1 -2,2 h-56.5 z" fill="#ef5350"/><text x="1028.6" y="269.95" font-family="Liberation Sans, sans-serif" font-size="15.5" fill="#fff" textLength="37.5" lengthAdjust="spacingAndGlyphs">83.03</text>
<path d="M1015,275 h56.5 a2,2 0 0 1 2,2 v17 a2,2 0 0 1 -2,2 h-56.5 z" fill="#2962ff"/><text x="1028.6" y="290.95" font-family="Liberation Sans, sans-serif" font-size="15.5" fill="#fff" textLength="37.5" lengthAdjust="spacingAndGlyphs">79.55</text>
<path d="M1015,296 h82 a2,2 0 0 1 2,2 v17 a2,2 0 0 1 -2,2 h-82 z" fill="#ef5350"/><text x="1028.6" y="311.95" font-family="Liberation Sans, sans-serif" font-size="15.5" fill="#fff"></text>
<text x="1028.6" y="310.8" font-family="Liberation Sans, sans-serif" font-size="15.5" fill="#fff" textLength="60" lengthAdjust="spacingAndGlyphs">388.753K</text>
</g>
<g clip-path="url(#ca2)">
<text x="1028.6" y="313.45" font-family="Liberation Sans, sans-serif" font-size="15.5" fill="#1c202b" textLength="37.3" lengthAdjust="spacingAndGlyphs">80.00</text>
<text x="1028.6" y="353.45" font-family="Liberation Sans, sans-serif" font-size="15.5" fill="#1c202b" textLength="37.3" lengthAdjust="spacingAndGlyphs">60.00</text>
<text x="1028.6" y="433.45" font-family="Liberation Sans, sans-serif" font-size="15.5" fill="#1c202b" textLength="37.3" lengthAdjust="spacingAndGlyphs">20.00</text>
<path d="M1015,358 h56.5 a2,2 0 0 1 2,2 v17 a2,2 0 0 1 -2,2 h-56.5 z" fill="#ffeb3b"/><text x="1028.6" y="373.95" font-family="Liberation Sans, sans-serif" font-size="15.5" fill="#1c202b" textLength="37.3" lengthAdjust="spacingAndGlyphs">43.30</text>
<path d="M1015,379 h56.5 a2,2 0 0 1 2,2 v17 a2,2 0 0 1 -2,2 h-56.5 z" fill="#7e57c2"/><text x="1028.6" y="394.95" font-family="Liberation Sans, sans-serif" font-size="15.5" fill="#fff" textLength="37.3" lengthAdjust="spacingAndGlyphs">39.29</text>
</g>
<g clip-path="url(#ca3)">
<text x="1028.6" y="462.95" font-family="Liberation Sans, sans-serif" font-size="15.5" fill="#1c202b" textLength="37.3" lengthAdjust="spacingAndGlyphs">20.00</text>
<text x="1028.6" y="568.45" font-family="Liberation Sans, sans-serif" font-size="15.5" fill="#1c202b" textLength="44.5" lengthAdjust="spacingAndGlyphs">−20.00</text>
<path d="M1015,499 h48.5 a2,2 0 0 1 2,2 v17 a2,2 0 0 1 -2,2 h-48.5 z" fill="#b2dfdb"/><text x="1028.6" y="514.95" font-family="Liberation Sans, sans-serif" font-size="15.5" fill="#1c202b" textLength="29" lengthAdjust="spacingAndGlyphs">0.13</text>
<path d="M1015,520 h56.5 a2,2 0 0 1 2,2 v17 a2,2 0 0 1 -2,2 h-56.5 z" fill="#2962ff"/><text x="1028.6" y="535.95" font-family="Liberation Sans, sans-serif" font-size="15.5" fill="#fff" textLength="36.5" lengthAdjust="spacingAndGlyphs">−4.33</text>
<path d="M1015,542 h56.5 a2,2 0 0 1 2,2 v17 a2,2 0 0 1 -2,2 h-56.5 z" fill="#ff6d00"/><text x="1028.6" y="557.95" font-family="Liberation Sans, sans-serif" font-size="15.5" fill="#fff" textLength="36.5" lengthAdjust="spacingAndGlyphs">−4.46</text>
</g>
<text x="95.5" y="595.6" font-family="Liberation Sans, sans-serif" font-size="15.5" fill="#1c202b" textLength="14.2" lengthAdjust="spacingAndGlyphs" text-anchor="middle">15</text>
<text x="215.5" y="595.6" font-family="Liberation Sans, sans-serif" font-size="15.5" fill="#1c202b" textLength="24.5" lengthAdjust="spacingAndGlyphs" text-anchor="middle">Dec</text>
<text x="320.4" y="595.6" font-family="Liberation Sans, sans-serif" font-size="15.5" fill="#1c202b" textLength="14.2" lengthAdjust="spacingAndGlyphs" text-anchor="middle">15</text>
<text x="448.5" y="595.6" font-family="Liberation Sans, sans-serif" font-size="15.5" fill="#1c202b" textLength="33.6" lengthAdjust="spacingAndGlyphs" text-anchor="middle" font-weight="bold">2022</text>
<text x="567.8" y="595.6" font-family="Liberation Sans, sans-serif" font-size="15.5" fill="#1c202b" textLength="14.2" lengthAdjust="spacingAndGlyphs" text-anchor="middle">17</text>
<text x="680.8" y="595.6" font-family="Liberation Sans, sans-serif" font-size="15.5" fill="#1c202b" textLength="23.5" lengthAdjust="spacingAndGlyphs" text-anchor="middle">Feb</text>
<text x="785.5" y="595.6" font-family="Liberation Sans, sans-serif" font-size="15.5" fill="#1c202b" textLength="14.2" lengthAdjust="spacingAndGlyphs" text-anchor="middle">15</text>
<text x="890.6" y="595.6" font-family="Liberation Sans, sans-serif" font-size="15.5" fill="#1c202b" textLength="24.5" lengthAdjust="spacingAndGlyphs" text-anchor="middle">Mar</text>
<text x="995.6" y="595.6" font-family="Liberation Sans, sans-serif" font-size="15.5" fill="#1c202b" textLength="14.2" lengthAdjust="spacingAndGlyphs" text-anchor="middle">15</text>
<text x="13.6" y="25.1" font-family="Liberation Sans, sans-serif" font-size="15.5" fill="#363a45" textLength="63.1" lengthAdjust="spacingAndGlyphs">Published</text>
<text x="82.6" y="25.1" font-family="Liberation Sans, sans-serif" font-size="15.5" fill="#363a45" textLength="14.8" lengthAdjust="spacingAndGlyphs">on</text>
<text x="103.7" y="25.1" font-family="Liberation Sans, sans-serif" font-size="15.5" fill="#363a45" textLength="115.8" lengthAdjust="spacingAndGlyphs">TradingView.com,</text>
<text x="226.5" y="25.1" font-family="Liberation Sans, sans-serif" font-size="15.5" fill="#363a45" textLength="22.8" lengthAdjust="spacingAndGlyphs">Mar</text>
<text x="255.2" y="25.1" font-family="Liberation Sans, sans-serif" font-size="15.5" fill="#363a45" textLength="18.7" lengthAdjust="spacingAndGlyphs">07,</text>
<text x="281.1" y="25.1" font-family="Liberation Sans, sans-serif" font-size="15.5" fill="#363a45" textLength="28.7" lengthAdjust="spacingAndGlyphs">2022</text>
<text x="317.5" y="25.1" font-family="Liberation Sans, sans-serif" font-size="15.5" fill="#363a45" textLength="35.0" lengthAdjust="spacingAndGlyphs">02:12</text>
<text x="358.7" y="25.1" font-family="Liberation Sans, sans-serif" font-size="15.5" fill="#363a45" textLength="26.1" lengthAdjust="spacingAndGlyphs">UTC</text>
<text x="23.6" y="59.1" font-family="Liberation Sans, sans-serif" font-size="15.5" fill="#1c202b" textLength="23.0" lengthAdjust="spacingAndGlyphs">SOL</text>
<text x="54.3" y="59.1" font-family="Liberation Sans, sans-serif" font-size="15.5" fill="#1c202b" textLength="4.2" lengthAdjust="spacingAndGlyphs">/</text>
<text x="65.4" y="59.1" font-family="Liberation Sans, sans-serif" font-size="15.5" fill="#1c202b" textLength="63.1" lengthAdjust="spacingAndGlyphs">TetherUS,</text>
<text x="136.4" y="59.1" font-family="Liberation Sans, sans-serif" font-size="15.5" fill="#1c202b" textLength="19.7" lengthAdjust="spacingAndGlyphs">1D,</text>
<text x="162.5" y="59.1" font-family="Liberation Sans, sans-serif" font-size="15.5" fill="#1c202b" textLength="55.8" lengthAdjust="spacingAndGlyphs">BINANCE</text>
<text x="229.1" y="59.1" font-family="Liberation Sans, sans-serif" font-size="15.5" fill="#1c202b" textLength="9.2" lengthAdjust="spacingAndGlyphs">O</text>
<text x="238.9" y="59.1" font-family="Liberation Sans, sans-serif" font-size="15.5" fill="#ef5350" textLength="36.9" lengthAdjust="spacingAndGlyphs">84.58</text>
<text x="285.6" y="59.1" font-family="Liberation Sans, sans-serif" font-size="15.5" fill="#1c202b" textLength="9.0" lengthAdjust="spacingAndGlyphs">H</text>
<text x="295.3" y="59.1" font-family="Liberation Sans, sans-serif" font-size="15.5" fill="#ef5350" textLength="36.0" lengthAdjust="spacingAndGlyphs">84.79</text>
<text x="342" y="59.1" font-family="Liberation Sans, sans-serif" font-size="15.5" fill="#1c202b" textLength="6" lengthAdjust="spacingAndGlyphs">L</text>
<text x="348.1" y="59.1" font-family="Liberation Sans, sans-serif" font-size="15.5" fill="#ef5350" textLength="36.6" lengthAdjust="spacingAndGlyphs">82.00</text>
<text x="394.7" y="59.1" font-family="Liberation Sans, sans-serif" font-size="15.5" fill="#1c202b" textLength="8.6" lengthAdjust="spacingAndGlyphs">C</text>
<text x="403.9" y="59.1" font-family="Liberation Sans, sans-serif" font-size="15.5" fill="#ef5350" textLength="35.7" lengthAdjust="spacingAndGlyphs">83.03</text>
<text x="450.3" y="59.1" font-family="Liberation Sans, sans-serif" font-size="15.5" fill="#ef5350" textLength="35.7" lengthAdjust="spacingAndGlyphs">−1.54</text>
<text x="491.5" y="59.1" font-family="Liberation Sans, sans-serif" font-size="15.5" fill="#ef5350" textLength="55.7" lengthAdjust="spacingAndGlyphs">(−1.82%)</text>
<text x="23" y="79.5" font-family="Liberation Sans, sans-serif" font-size="15.5" fill="#1c202b" textLength="20.1" lengthAdjust="spacingAndGlyphs">Vol</text>
<text x="53.1" y="79.5" font-family="Liberation Sans, sans-serif" font-size="15.5" fill="#ef5350" textLength="60.3" lengthAdjust="spacingAndGlyphs">388.753K</text>
<text x="23" y="100.2" font-family="Liberation Sans, sans-serif" font-size="15.5" fill="#1c202b" textLength="15.8" lengthAdjust="spacingAndGlyphs">BB</text>
<text x="45.1" y="100.2" font-family="Liberation Sans, sans-serif" font-size="15.5" fill="#1c202b" textLength="22.1" lengthAdjust="spacingAndGlyphs">(20,</text>
<text x="75.8" y="100.2" font-family="Liberation Sans, sans-serif" font-size="15.5" fill="#1c202b" textLength="32.6" lengthAdjust="spacingAndGlyphs">close,</text>
<text x="120.5" y="100.2" font-family="Liberation Sans, sans-serif" font-size="15.5" fill="#1c202b" textLength="9.5" lengthAdjust="spacingAndGlyphs">2,</text>
<text x="138.5" y="100.2" font-family="Liberation Sans, sans-serif" font-size="15.5" fill="#1c202b" textLength="12.1" lengthAdjust="spacingAndGlyphs">0)</text>
<text x="160.6" y="100.2" font-family="Liberation Sans, sans-serif" font-size="15.5" fill="#ff6d00" textLength="35.9" lengthAdjust="spacingAndGlyphs">90.96</text>
<text x="207.8" y="100.2" font-family="Liberation Sans, sans-serif" font-size="15.5" fill="#2962ff" textLength="44.5" lengthAdjust="spacingAndGlyphs">102.37</text>
<text x="261.6" y="100.2" font-family="Liberation Sans, sans-serif" font-size="15.5" fill="#2962ff" textLength="34.6" lengthAdjust="spacingAndGlyphs">79.55</text>
<text x="23.7" y="328.5" font-family="Liberation Sans, sans-serif" font-size="15.5" fill="#1c202b" textLength="19.2" lengthAdjust="spacingAndGlyphs">RSI</text>
<text x="49.9" y="328.5" font-family="Liberation Sans, sans-serif" font-size="15.5" fill="#1c202b" textLength="25.0" lengthAdjust="spacingAndGlyphs">(14,</text>
<text x="80.1" y="328.5" font-family="Liberation Sans, sans-serif" font-size="15.5" fill="#1c202b" textLength="38.1" lengthAdjust="spacingAndGlyphs">close,</text>
<text x="123.7" y="328.5" font-family="Liberation Sans, sans-serif" font-size="15.5" fill="#1c202b" textLength="31.4" lengthAdjust="spacingAndGlyphs">SMA,</text>
<text x="160.3" y="328.5" font-family="Liberation Sans, sans-serif" font-size="15.5" fill="#1c202b" textLength="19.8" lengthAdjust="spacingAndGlyphs">14,</text>
<text x="185.6" y="328.5" font-family="Liberation Sans, sans-serif" font-size="15.5" fill="#1c202b" textLength="12.2" lengthAdjust="spacingAndGlyphs">2)</text>
<text x="209.1" y="328.5" font-family="Liberation Sans, sans-serif" font-size="15.5" fill="#7e57c2" textLength="35.1" lengthAdjust="spacingAndGlyphs">39.29</text>
<text x="254.2" y="328.5" font-family="Liberation Sans, sans-serif" font-size="15.5" fill="#fadb25" textLength="36.3" lengthAdjust="spacingAndGlyphs">43.30</text>
<text x="300.6" y="328.5" font-family="Liberation Sans, sans-serif" font-size="15.5" fill="#1c202b" textLength="23.5" lengthAdjust="spacingAndGlyphs">n/a</text>
<text x="334.1" y="328.5" font-family="Liberation Sans, sans-serif" font-size="15.5" fill="#1c202b" textLength="23.5" lengthAdjust="spacingAndGlyphs">n/a</text>
<text x="23.4" y="462.7" font-family="Liberation Sans, sans-serif" font-size="15.5" fill="#1c202b" textLength="38.2" lengthAdjust="spacingAndGlyphs">MACD</text>
<text x="67.7" y="462.7" font-family="Liberation Sans, sans-serif" font-size="15.5" fill="#1c202b" textLength="25.6" lengthAdjust="spacingAndGlyphs">(12,</text>
<text x="97.7" y="462.7" font-family="Liberation Sans, sans-serif" font-size="15.5" fill="#1c202b" textLength="19.4" lengthAdjust="spacingAndGlyphs">26,</text>
<text x="123.3" y="462.7" font-family="Liberation Sans, sans-serif" font-size="15.5" fill="#1c202b" textLength="37.5" lengthAdjust="spacingAndGlyphs">close,</text>
<text x="167.6" y="462.7" font-family="Liberation Sans, sans-serif" font-size="15.5" fill="#1c202b" textLength="9.9" lengthAdjust="spacingAndGlyphs">9,</text>
<text x="184.6" y="462.7" font-family="Liberation Sans, sans-serif" font-size="15.5" fill="#1c202b" textLength="31.4" lengthAdjust="spacingAndGlyphs">EMA,</text>
<text x="222.1" y="462.7" font-family="Liberation Sans, sans-serif" font-size="15.5" fill="#1c202b" textLength="32.4" lengthAdjust="spacingAndGlyphs">EMA)</text>
<text x="264.7" y="462.7" font-family="Liberation Sans, sans-serif" font-size="15.5" fill="#b2dfdb" textLength="28.0" lengthAdjust="spacingAndGlyphs">0.13</text>
<text x="302.9" y="462.7" font-family="Liberation Sans, sans-serif" font-size="15.5" fill="#2962ff" textLength="35.8" lengthAdjust="spacingAndGlyphs">−4.33</text>
<text x="348.9" y="462.7" font-family="Liberation Sans, sans-serif" font-size="15.5" fill="#ff6d00" textLength="35.8" lengthAdjust="spacingAndGlyphs">−4.46</text>
<g fill="#131722">
<path d="M12.9,623.9 H23.2 V635.2 H17.9 V628.6 H12.9 Z"/>
<circle cx="26.1" cy="626.3" r="2.35"/>
<path d="M30.4,623.9 H37.2 L32.9,635.2 H26.5 Z"/>
</g>
<text x="42.4" y="635.2" font-family="Liberation Sans, sans-serif" font-size="14.8" fill="#1e222d" textLength="86.3" lengthAdjust="spacingAndGlyphs">TradingView</text>
</svg></body></html>
